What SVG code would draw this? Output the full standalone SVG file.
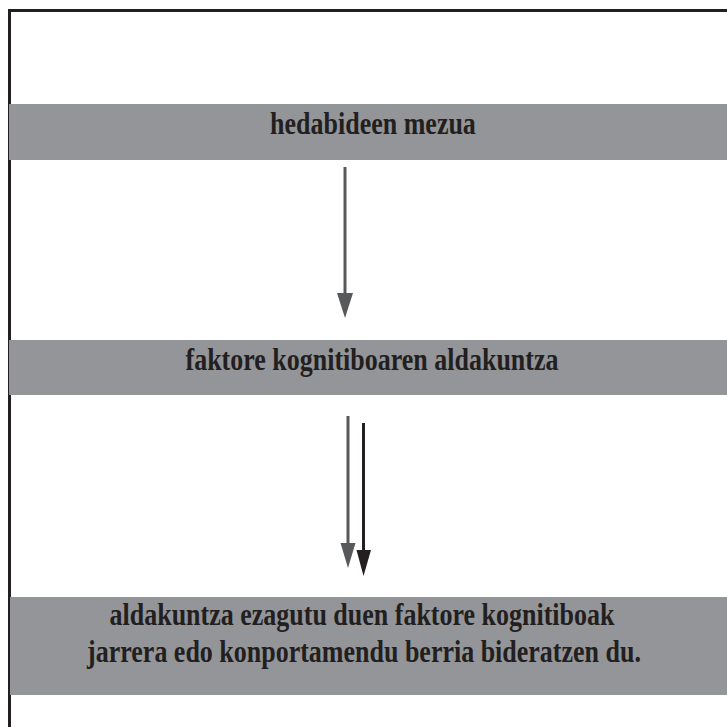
<svg xmlns="http://www.w3.org/2000/svg" width="727" height="727" viewBox="0 0 727 727">
<style>
.band{fill:#939598}
.lbl{font-family:"Liberation Serif","Times New Roman",serif;font-weight:bold;font-size:26px;fill:#231f20;text-anchor:middle}
.frame{fill:none;stroke:#231f20;stroke-width:3}
</style>
<rect width="727" height="727" fill="#ffffff"/>
<path class="frame" d="M9.5,740 V10.5 H740"/>
<g id="node1"><rect class="band" x="9" y="104" width="718" height="56"/><text class="lbl" transform="translate(373,134) scale(1,1.18)">hedabideen mezua</text></g>
<g id="node2"><rect class="band" x="9" y="340" width="718" height="55"/><text class="lbl" transform="translate(372,370) scale(1,1.18)">faktore kognitiboaren aldakuntza</text></g>
<g id="node3"><rect class="band" x="10" y="597" width="717" height="98"/><text class="lbl" transform="translate(362,625) scale(1,1.18)">aldakuntza ezagutu duen faktore kognitiboak</text><text class="lbl" transform="translate(364,662) scale(1,1.18)">jarrera edo konportamendu berria bideratzen du.</text></g>
<g id="connectors">
<line x1="345" y1="167" x2="345" y2="296" stroke="#58595b" stroke-width="3"/>
<polygon points="337,293 353,293 345,318" fill="#58595b"/>
<line x1="348" y1="416" x2="348" y2="546" stroke="#58595b" stroke-width="3"/>
<polygon points="340.5,543 355.5,543 348,568" fill="#58595b"/>
<line x1="363.5" y1="423" x2="363.5" y2="553" stroke="#231f20" stroke-width="3"/>
<polygon points="356.5,550 371,550 363.5,576" fill="#231f20"/>
</g>
</svg>
